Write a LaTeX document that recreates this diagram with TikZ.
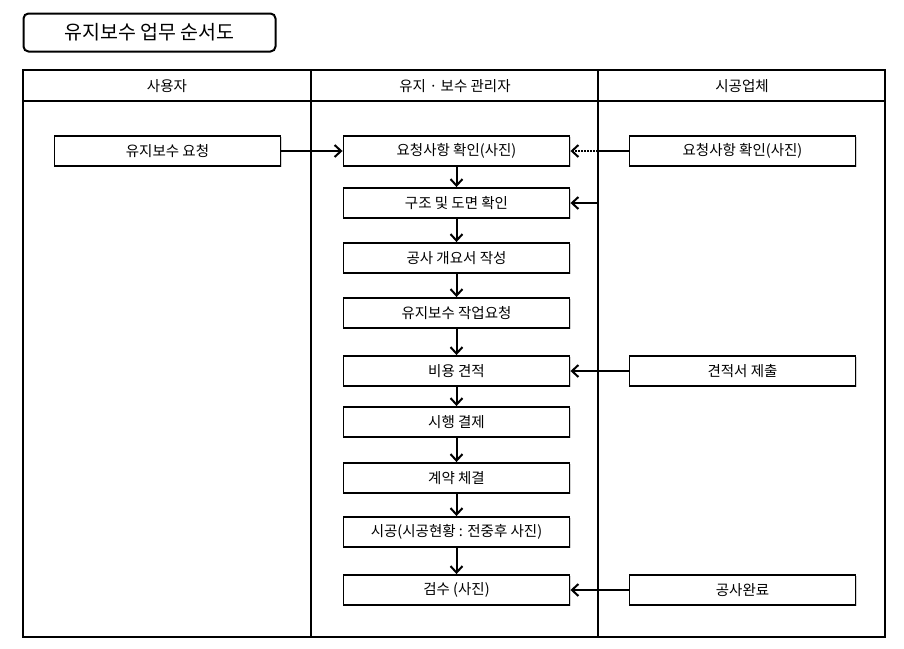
\documentclass[tikz,border=0pt]{standalone}
\usepackage{fontspec}
\setmainfont{Noto Sans CJK KR}
\usetikzlibrary{arrows.meta,shadows}

\tikzset{
  stepbox/.style={draw, fill=white, line width=1.9pt, minimum width=226pt,
    minimum height=30pt, inner sep=0pt, font=\fontsize{14.5}{16}\selectfont,
    drop shadow={shadow xshift=1.2pt, shadow yshift=-1.2pt, opacity=.35, fill=gray}},
  lanehead/.style={font=\fontsize{14.5}{16}\selectfont},
  flow/.style={line width=2pt, -{Straight Barb[length=6.5pt,width=12pt]}},
  lane/.style={line width=2.8pt},
}

\begin{document}
\begin{tikzpicture}[x=1pt,y=-1pt]
  \useasboundingbox (0,0) rectangle (904,648);
  % Title
  \node[draw, rounded corners=5pt, line width=2pt, minimum width=252pt,
    minimum height=38pt, font=\fontsize{19.5}{21}\selectfont] (title) at (149.5,32.5)
    {유지보수 업무 순서도};
  % Swim lanes
  \draw[lane] (23,70) rectangle (885,637);
  \draw[lane] (23,101) -- (885,101);
  \draw[lane] (311,70) -- (311,637);
  \draw[lane] (598,70) -- (598,637);
  \coordinate (laneright) at (598,101);
  \node[lanehead] (userhead) at (167,86) {사용자};
  \node[lanehead] (mgrhead) at (455,86) {유지 · 보수 관리자};
  \node[lanehead] (corphead) at (742,86) {시공업체};
  % User
  \node[stepbox] (request) at (167.5,151) {유지보수 요청};
  % Manager
  \foreach \name/\y/\txt in {check/151/요청사항 확인(사진), plan/203/구조 및 도면 확인,
      outline/258/공사 개요서 작성, order/313/유지보수 작업요청, cost/371/비용 견적,
      approve/422/시행 결제, contract/478/계약 체결, build/532/시공(시공현황 : 전중후 사진),
      inspect/590/검수 (사진)}
    \node[stepbox] (\name) at (456.5,\y) {\txt};
  % Contractor
  \node[stepbox] (corpcheck) at (742.5,151) {요청사항 확인(사진)};
  \node[stepbox] (estimate) at (742.5,371) {견적서 제출};
  \node[stepbox] (done) at (742.5,590) {공사완료};
  % Flow
  \foreach \a/\b in {check/plan, plan/outline, outline/order, order/cost,
      cost/approve, approve/contract, contract/build, build/inspect}
    \draw[flow] (\a) -- (\b);
  \draw[flow] (request) -- (check);
  \draw[line width=2pt] (corpcheck.west) -- (corpcheck.west -| laneright) coordinate (tap);
  \draw[flow, densely dotted] (tap) -- (check.east);
  \draw[flow] (plan.east -| laneright) -- (plan.east);
  \draw[flow] (estimate) -- (cost);
  \draw[flow] (done) -- (inspect);
\end{tikzpicture}
\end{document}
